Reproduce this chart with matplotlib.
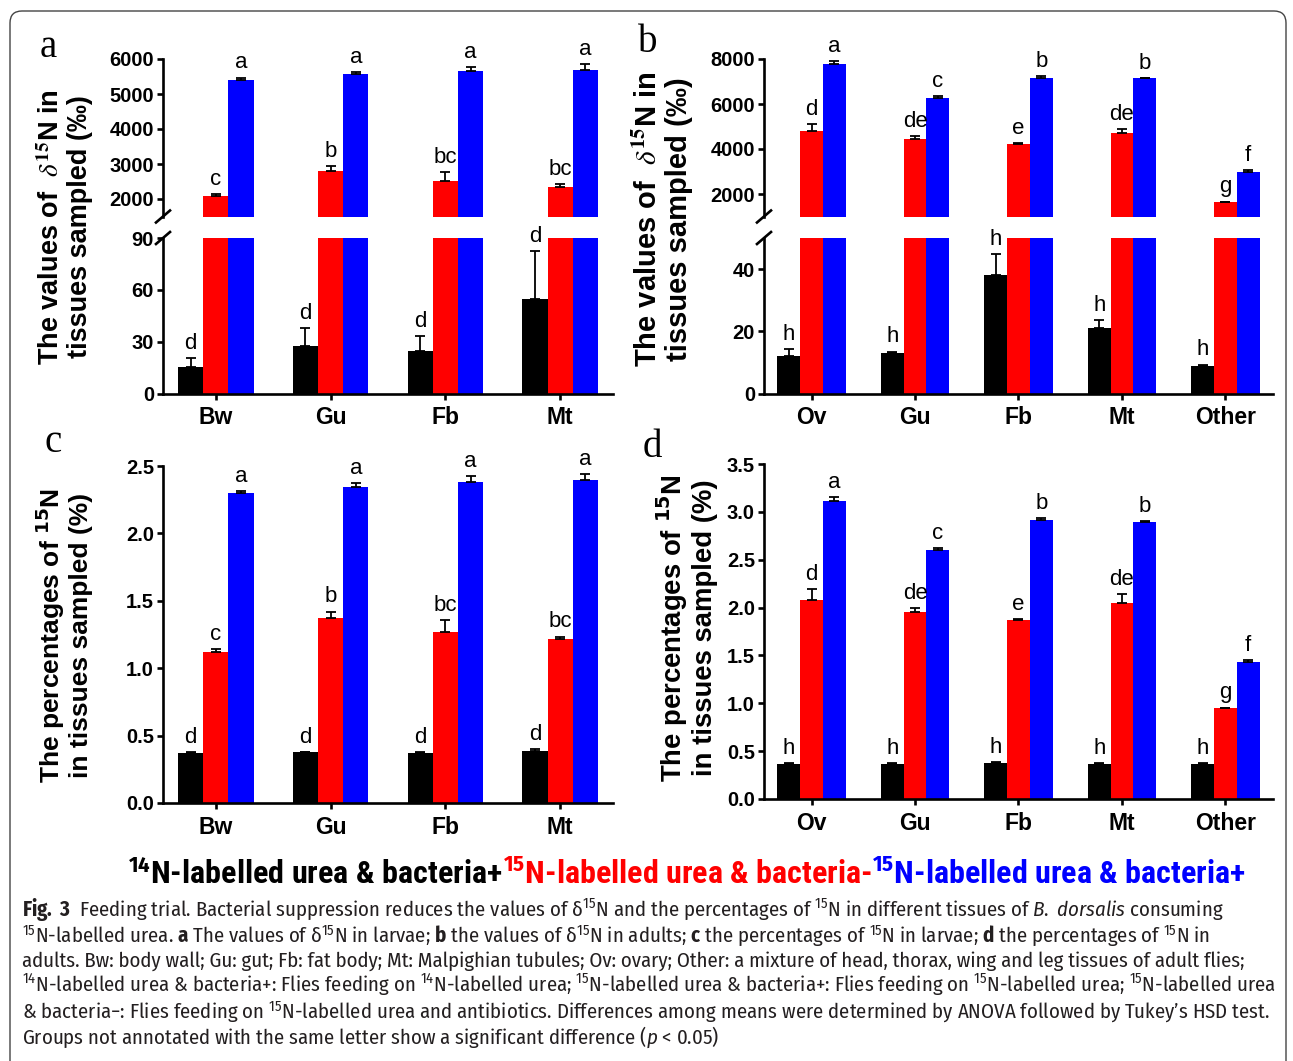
import matplotlib
matplotlib.use("Agg")
import numpy as np
import matplotlib.pyplot as plt
from matplotlib import font_manager as fm
from matplotlib.patches import FancyBboxPatch
from matplotlib.transforms import IdentityTransform

W, H = 1293, 1061

# ---- data ----
larvae_tissues = ["Bw", "Gu", "Fb", "Mt"]
adult_tissues = ["Ov", "Gu", "Fb", "Mt", "Other"]

# a: delta 15N values in larvae (per mil)
a_n14 = [15.6, 27.7, 24.8, 54.8]
a_n14_err = [5.0, 10.3, 8.4, 27.7]
a_n15_abx = [2080, 2810, 2510, 2350]
a_n15_abx_err = [70, 140, 270, 70]
a_n15 = [5400, 5570, 5670, 5690]
a_n15_err = [70, 60, 110, 160]
a_let_n14 = ["d", "d", "d", "d"]
a_let_n15_abx = ["c", "b", "bc", "bc"]
a_let_n15 = ["a", "a", "a", "a"]

# b: delta 15N values in adults (per mil)
b_n14 = [11.9, 12.9, 38.1, 21.0, 9.0]
b_n14_err = [2.4, 0.6, 6.6, 2.7, 0.3]
b_n15_abx = [4800, 4430, 4220, 4700, 1630]
b_n15_abx_err = [310, 150, 30, 200, 30]
b_n15 = [7760, 6270, 7170, 7140, 2990]
b_n15_err = [140, 90, 60, 20, 90]
b_let_n14 = ["h", "h", "h", "h", "h"]
b_let_n15_abx = ["d", "de", "e", "de", "g"]
b_let_n15 = ["a", "c", "b", "b", "f"]

# c: percentages of 15N in larvae
c_n14 = [0.371, 0.375, 0.370, 0.383]
c_n14_err = [0.005, 0.005, 0.005, 0.017]
c_n15_abx = [1.117, 1.376, 1.272, 1.216]
c_n15_abx_err = [0.023, 0.044, 0.088, 0.019]
c_n15 = [2.298, 2.347, 2.384, 2.397]
c_n15_err = [0.019, 0.025, 0.042, 0.043]
c_let_n14 = ["d", "d", "d", "d"]
c_let_n15_abx = ["c", "b", "bc", "bc"]
c_let_n15 = ["a", "a", "a", "a"]

# d: percentages of 15N in adults
d_n14 = [0.370, 0.370, 0.380, 0.370, 0.370]
d_n14_err = [0.004, 0.004, 0.004, 0.004, 0.004]
d_n15_abx = [2.083, 1.950, 1.874, 2.048, 0.947]
d_n15_abx_err = [0.107, 0.046, 0.006, 0.097, 0.008]
d_n15 = [3.110, 2.598, 2.910, 2.894, 1.430]
d_n15_err = [0.045, 0.022, 0.025, 0.006, 0.025]
d_let_n14 = ["h", "h", "h", "h", "h"]
d_let_n15_abx = ["d", "de", "e", "de", "g"]
d_let_n15 = ["a", "c", "b", "b", "f"]

legend_labels = ["$^{\\mathbf{14}}$N-labelled urea & bacteria+",
                 "$^{\\mathbf{15}}$N-labelled urea & bacteria-",
                 "$^{\\mathbf{15}}$N-labelled urea & bacteria+"]

caption_lines = [
    "$\\mathbf{Fig.}$ $\\mathbf{3}$  Feeding trial. Bacterial suppression reduces the values of \u03b4$^{15}$N and the percentages of $^{15}$N in different tissues of $\\mathit{B.}$ $\\mathit{dorsalis}$ consuming",
    "$^{15}$N-labelled urea. $\\mathbf{a}$ The values of \u03b4$^{15}$N in larvae; $\\mathbf{b}$ the values of \u03b4$^{15}$N in adults; $\\mathbf{c}$ the percentages of $^{15}$N in larvae; $\\mathbf{d}$ the percentages of $^{15}$N in",
    "adults. Bw: body wall; Gu: gut; Fb: fat body; Mt: Malpighian tubules; Ov: ovary; Other: a mixture of head, thorax, wing and leg tissues of adult flies;",
    "$^{14}$N-labelled urea & bacteria+: Flies feeding on $^{14}$N-labelled urea; $^{15}$N-labelled urea & bacteria+: Flies feeding on $^{15}$N-labelled urea; $^{15}$N-labelled urea",
    "& bacteria\u2212: Flies feeding on $^{15}$N-labelled urea and antibiotics. Differences among means were determined by ANOVA followed by Tukey\u2019s HSD test.",
    "Groups not annotated with the same letter show a significant difference ($\\mathit{p}$ < 0.05)",
]

COLORS = ["#000000", "#ff0000", "#0000ff"]

# ---- fonts: pick condensed faces that really exist ----
WNUM = {"normal": 400, "regular": 400, "book": 400, "medium": 500, "bold": 700,
        "light": 300, "semibold": 600, "demibold": 600, "heavy": 800, "black": 900}


def weight_num(w):
    try:
        return int(w)
    except (TypeError, ValueError):
        return WNUM.get(str(w).lower(), 400)


faces = {}
for f in fm.fontManager.ttflist:
    faces.setdefault(f.name, set()).add((weight_num(f.weight), f.style))


def has(name, need_regular=True, need_bold=True, need_italic=False):
    fs = faces.get(name, set())
    reg = any(w in (400, 500) and s == "normal" for w, s in fs)
    bold = any(w >= 600 and s == "normal" for w, s in fs)
    ital = any(w in (400, 500) and s in ("italic", "oblique") for w, s in fs)
    return ((reg or not need_regular) and (bold or not need_bold)
            and (ital or not need_italic))


cap_family = "Liberation Sans"
for cand in ["Liberation Sans Narrow", "Fira Sans Condensed", "Asap Condensed",
             "Roboto Condensed", "Archivo Narrow", "IBM Plex Sans Condensed",
             "Encode Sans Condensed"]:
    if has(cand, need_italic=True):
        cap_family = cand
        break

leg_family = "Liberation Sans"
for cand in ["Liberation Sans Narrow", "Roboto Condensed", "Archivo Narrow",
             "Arimo Narrow", "Open Sans Condensed", "Fira Sans Condensed"]:
    if has(cand, need_regular=False):
        leg_family = cand
        break

plt.rcParams["font.family"] = ["Liberation Sans", "DejaVu Sans"]
plt.rcParams["mathtext.fontset"] = "custom"
plt.rcParams["mathtext.rm"] = cap_family
plt.rcParams["mathtext.bf"] = cap_family + ":bold"
plt.rcParams["mathtext.it"] = cap_family + ":italic"

fig = plt.figure(figsize=(W / 100, H / 100), dpi=100)


def px_axes(x0, y0, x1, y1):
    return fig.add_axes([x0 / W, 1 - y1 / H, (x1 - x0) / W, (y1 - y0) / H])


def style(ax, bottom=True):
    for s in ["top", "right"]:
        ax.spines[s].set_visible(False)
    ax.spines["left"].set_linewidth(1.9)
    ax.spines["bottom"].set_linewidth(1.9)
    ax.spines["bottom"].set_visible(bottom)
    ax.tick_params(axis="y", length=4.5, width=1.9, pad=2, labelsize=14.5)
    ax.tick_params(axis="x", length=4, width=1.9, pad=5, labelsize=16.5)
    for lab in ax.get_yticklabels():
        lab.set_fontweight("bold")
    if not bottom:
        ax.tick_params(axis="x", bottom=False, labelbottom=False)


def bars(ax, series, errs):
    n = len(series[0])
    x = np.arange(n)
    w = 0.22
    for k, (vals, err) in enumerate(zip(series, errs)):
        xs = x + (k - 1) * w
        ax.bar(xs, vals, w, color=COLORS[k], linewidth=0, zorder=2)
        ax.errorbar(xs, vals, yerr=[np.zeros(n), err], fmt="none", ecolor="black",
                    elinewidth=1.3, capsize=3.6, capthick=1.3, zorder=3)


def letters(axes_for, series, errs, labs):
    n = len(series[0])
    w = 0.22
    for k in range(3):
        for i in range(n):
            top = series[k][i] + errs[k][i]
            ax = axes_for(top)
            ax.annotate(labs[k][i], xy=(i + (k - 1) * w, top), xytext=(0, 3),
                        textcoords="offset points", ha="center", va="bottom",
                        fontsize=16, annotation_clip=False, zorder=4)


def break_marks(ax, where):
    bb = ax.get_position()
    dx = 7 / (bb.width * W)
    dy = 6 / (bb.height * H)
    y0 = 0 if where == "bottom" else 1
    ax.plot([-dx, dx], [y0 - dy, y0 + dy], transform=ax.transAxes, color="black",
            lw=1.9, clip_on=False, zorder=5)


def broken_panel(x0, x1, tissues, series, errs, labs, up_lim, up_ticks, lo_lim, lo_ticks):
    n = len(tissues)
    spacing = (x1 - x0) / (n - 1 + 0.92)
    left = -0.46
    xlim = (left, left + (x1 - x0) / spacing)
    up = px_axes(x0, 59, x1, 216.5)
    lo = px_axes(x0, 238, x1, 393.5)
    for ax in (up, lo):
        bars(ax, series, errs)
        ax.set_xlim(*xlim)
    up.set_ylim(*up_lim)
    up.set_yticks(up_ticks)
    lo.set_ylim(*lo_lim)
    lo.set_yticks(lo_ticks)
    lo.set_xticks(np.arange(n))
    lo.set_xticklabels(tissues, fontweight="bold")
    style(up, bottom=False)
    style(lo)
    break_marks(up, "bottom")
    break_marks(lo, "top")
    letters(lambda v: up if v > lo_lim[1] else lo, series, errs, labs)
    return up, lo


def plain_panel(x0, y0, x1, y1, tissues, series, errs, labs, ylim, yticks):
    n = len(tissues)
    spacing = (x1 - x0) / (n - 1 + 0.92)
    left = -0.46
    ax = px_axes(x0, y0, x1, y1)
    bars(ax, series, errs)
    ax.set_xlim(left, left + (x1 - x0) / spacing)
    ax.set_ylim(*ylim)
    ax.set_yticks(yticks)
    ax.set_yticklabels([f"{t:.1f}" for t in yticks])
    ax.set_xticks(np.arange(n))
    ax.set_xticklabels(tissues, fontweight="bold")
    style(ax)
    letters(lambda v: ax, series, errs, labs)
    return ax


broken_panel(163, 613, larvae_tissues,
             [a_n14, a_n15_abx, a_n15], [a_n14_err, a_n15_abx_err, a_n15_err],
             [a_let_n14, a_let_n15_abx, a_let_n15],
             (1500, 6000), [2000, 3000, 4000, 5000, 6000], (0, 90), [0, 30, 60, 90])
broken_panel(764, 1273, adult_tissues,
             [b_n14, b_n15_abx, b_n15], [b_n14_err, b_n15_abx_err, b_n15_err],
             [b_let_n14, b_let_n15_abx, b_let_n15],
             (1000, 8000), [2000, 4000, 6000, 8000], (0, 50), [0, 20, 40])
plain_panel(163, 466, 613, 803, larvae_tissues,
            [c_n14, c_n15_abx, c_n15], [c_n14_err, c_n15_abx_err, c_n15_err],
            [c_let_n14, c_let_n15_abx, c_let_n15], (0, 2.5), np.arange(0, 2.51, 0.5))
plain_panel(764, 464, 1273, 799, adult_tissues,
            [d_n14, d_n15_abx, d_n15], [d_n14_err, d_n15_abx_err, d_n15_err],
            [d_let_n14, d_let_n15_abx, d_let_n15], (0, 3.5), np.arange(0, 3.51, 0.5))

# y labels
ylab_delta = "The values of  $\\delta^{\\mathbf{15}}$N in\ntissues sampled (\u2030)"
ylab_pct = "The percentages of $^{\\mathbf{15}}$N\nin tissues sampled (%)"
for x, y, txt, mf, fs in [(66, 227, ylab_delta, "stix", 19.5), (664, 219, ylab_delta, "stix", 21),
                          (63, 635, ylab_pct, "dejavusans", 19), (686, 628, ylab_pct, "dejavusans", 19.8)]:
    fig.text(x / W, 1 - y / H, txt, rotation=90, ha="center", va="center",
             multialignment="center", fontsize=fs, fontweight="bold",
             math_fontfamily=mf, linespacing=1.1)

# panel letters
for x, y, s in [(40, 57, "a"), (638, 52, "b"), (45, 452, "c"), (643, 457, "d")]:
    fig.text(x / W, 1 - y / H, s, family="Liberation Serif", fontsize=28,
             ha="left", va="baseline")

# legend line, three coloured pieces placed side by side
renderer = fig.canvas.get_renderer()
pieces = [fig.text(0, 0, s, fontsize=18, fontweight="bold", family=[leg_family, "DejaVu Sans"],
                   color=c, va="baseline", ha="left")
          for s, c in zip(legend_labels, COLORS)]
total = sum(p.get_window_extent(renderer).width for p in pieces)
size = 18 * (1247 - 128) / total
xpos = 128
for p in pieces:
    p.set_fontsize(size)
    p.set_position((xpos / W, 1 - 884 / H))
    xpos += p.get_window_extent(renderer).width

# caption
cap_texts = []
for i, line in enumerate(caption_lines):
    t = fig.text(22 / W, 1 - (916 + 25.5 * i) / H, line, fontsize=14,
                 family=[cap_family, "DejaVu Sans"], fontweight="normal",
                 color="#231f20", ha="left", va="baseline")
    cap_texts.append(t)
wref = cap_texts[4].get_window_extent(renderer).width
csize = 14 * (1271 - 22) / wref
for t in cap_texts:
    t.set_fontsize(csize)

# rounded frame
frame = FancyBboxPatch((10, -40), 1276, 1050 + 40, boxstyle="round,pad=0,rounding_size=12",
                       transform=IdentityTransform(), facecolor="none",
                       edgecolor="#444444", linewidth=1.0)
fig.patches.append(frame)

fig.savefig("out.png", dpi=100)
